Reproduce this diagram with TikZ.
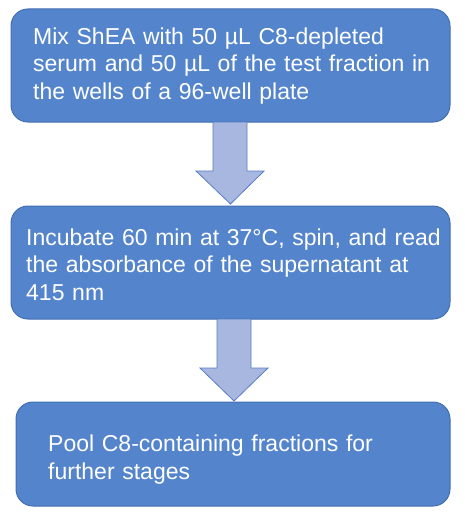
\documentclass[tikz,border=0pt]{standalone}
\usepackage{fontspec}
\setmainfont{Liberation Sans}
\definecolor{boxfill}{RGB}{84,133,204}
\definecolor{boxline}{RGB}{66,110,178}
\definecolor{arrfill}{RGB}{168,183,224}
\definecolor{arrline}{RGB}{88,124,196}
\begin{document}
\begin{tikzpicture}[x=1pt,y=-1pt,
  stepbox/.style={draw=boxline,line width=1pt,fill=boxfill,rounded corners=17pt},
  steptext/.style={text=white,anchor=north west,inner sep=0pt,text width=430pt,font=\fontsize{23}{27.5}\selectfont},
  flowarrow/.style={draw=arrline,line width=0.8pt,fill=arrfill}]
\useasboundingbox (0,0) rectangle (464,516);
% boxes
\draw[stepbox] (11,9) rectangle (450,122);
\draw[stepbox] (11,206) rectangle (450,319);
\draw[stepbox] (16,402) rectangle (450,506);
% arrows
\draw[flowarrow] (213,122) -- (247,122) -- (247,171) -- (264,171) -- (230.5,204) -- (196,171) -- (213,171) -- cycle;
\draw[flowarrow] (217,319) -- (251,319) -- (251,368) -- (268,368) -- (234,401) -- (200,368) -- (217,368) -- cycle;
% texts
\node[steptext] (t1) at (33,25) {\parindent=0pt\strut Mix ShEA with 50 µL C8-depleted\par serum and 50 µL of the test fraction in\par the wells of a 96-well plate};
\node[steptext] (t2) at (26,225.8) {\parindent=0pt\strut Incubate 60 min at 37°C, spin, and read\par the absorbance of the supernatant at\par 415 nm};
\node[steptext] (t3) at (48,432.5) {\parindent=0pt\strut Pool C8-containing fractions for\par further stages};
\end{tikzpicture}
\end{document}
